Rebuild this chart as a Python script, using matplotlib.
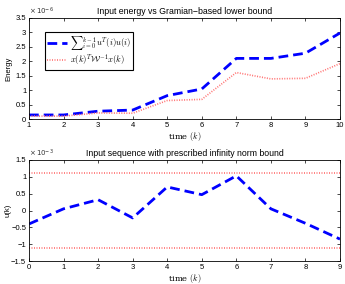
import numpy as np
import matplotlib.pyplot as plt

plt.rcParams['font.family'] = ['Liberation Sans', 'DejaVu Sans']
plt.rcParams['mathtext.fontset'] = 'cm'

# top panel: energy (units of 1e-6)
k_top = [1, 2, 3, 4, 5, 6, 7, 8, 9, 10]
energy = [0.14, 0.14, 0.27, 0.31, 0.81, 1.04, 2.10, 2.10, 2.28, 2.98]
bound = [0.10, 0.10, 0.21, 0.20, 0.64, 0.68, 1.61, 1.39, 1.41, 1.92]

# bottom panel: input sequence (units of 1e-3)
k_bot = [0, 1, 2, 3, 4, 5, 6, 7, 8, 9]
u = [-0.40, 0.05, 0.32, -0.22, 0.70, 0.47, 1.03, 0.05, -0.38, -0.85]
u_max = 1.1

fig = plt.figure(figsize=(3.45, 2.84), dpi=100)
ax1 = fig.add_axes([29/345, 1 - 119/284, 311/345, 101/284])
ax2 = fig.add_axes([29/345, 1 - 261/284, 311/345, 101/284])

fs = 5.5
red = '#ff7070'

ax1.plot(k_top, energy, color='blue', lw=2.0, dashes=(3.5, 1.8),
         label=r'${\sum}_{i=0}^{k-1}u^T(i)u(i)$')
ax1.plot(k_top, bound, color=red, lw=1.2, dashes=(0.6, 0.9),
         label=r'$x(k)^T\mathcal{W}^{-1}x(k)$')
ax1.set_xlim(1, 10)
ax1.set_ylim(0, 3.5)
ax1.set_xticks(range(1, 11))
ax1.set_yticks(np.arange(0, 3.51, 0.5))
ax1.set_yticklabels(['0', '0.5', '1', '1.5', '2', '2.5', '3', '3.5'])
ax1.set_title('Input energy vs Gramian\u2212based lower bound', fontsize=6.3, pad=3)
ax1.set_ylabel('Energy', fontsize=fs, labelpad=2)
ax1.set_xlabel(r'time $(k)$', fontsize=6, family='serif', labelpad=1)
ax1.text(0, 1.01, r'$\times\,10^{-6}$', transform=ax1.transAxes, fontsize=5,
         ha='left', va='bottom', math_fontfamily='dejavusans', color='#333333')
leg = ax1.legend(loc='upper left', bbox_to_anchor=(0.05, 0.86), fontsize=6.2,
                 frameon=True, fancybox=False, edgecolor='black', framealpha=1,
                 handlelength=2.4, borderpad=0.25, labelspacing=0.05,
                 handletextpad=0.3, borderaxespad=0)
leg.get_frame().set_linewidth(0.8)

ax2.plot(k_bot, u, color='blue', lw=2.0, dashes=(3.5, 1.8))
ax2.axhline(u_max, color=red, lw=1.2, dashes=(0.6, 0.9))
ax2.axhline(-u_max, color=red, lw=1.2, dashes=(0.6, 0.9))
ax2.set_xlim(0, 9)
ax2.set_ylim(-1.5, 1.5)
ax2.set_xticks(range(0, 10))
ax2.set_yticks(np.arange(-1.5, 1.51, 0.5))
ax2.set_yticklabels(['\u22121.5', '\u22121', '\u22120.5', '0', '0.5', '1', '1.5'])
ax2.set_title('Input sequence with prescribed infinity norm bound', fontsize=6.3, pad=3)
ax2.set_ylabel('u(k)', fontsize=fs, labelpad=0)
ax2.set_xlabel(r'time $(k)$', fontsize=6, family='serif', labelpad=1)
ax2.text(0, 1.01, r'$\times\,10^{-3}$', transform=ax2.transAxes, fontsize=5,
         ha='left', va='bottom', math_fontfamily='dejavusans', color='#333333')

for ax in (ax1, ax2):
    ax.tick_params(direction='in', top=True, right=True, labelsize=fs,
                   length=2, width=0.5, pad=2)
    for s in ax.spines.values():
        s.set_linewidth(0.6)

fig.savefig('out.png', dpi=100)
